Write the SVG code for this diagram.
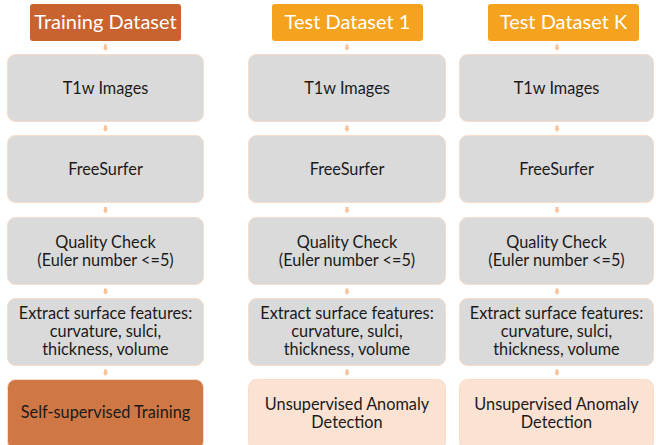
<svg xmlns="http://www.w3.org/2000/svg" width="656" height="445" viewBox="0 0 656 445">
<style>
  text { font-family: "Lato", "Open Sans", "Liberation Sans", sans-serif; text-anchor: middle; fill: #1a1a1a; }
  .hdr { font-size: 20px; fill: #ffffff; }
  .lbl { font-size: 16.3px; }
  .gray { fill: #dadada; stroke: #f9dcc8; stroke-width: 1; }
  .hTrain { fill: #c8632f; }
  .hTest { fill: #f5a31f; }
  .bTrain { fill: #cf7846; stroke: #f9dcc8; stroke-width: 1; }
  .bTest { fill: #fbe2d2; stroke: #f9dcc8; stroke-width: 1; }
  .arr { fill: #f6c29a; }
</style>
<rect width="656" height="445" fill="#ffffff"/>

<g id="connectors">
  <path class="arr" d="M104,44.5 h3 v3 h1.2 l-2.7,3.5 l-2.7,-3.5 h1.2 z"/>
  <path class="arr" d="M104,125.5 h3 v3 h1.2 l-2.7,3.5 l-2.7,-3.5 h1.2 z"/>
  <path class="arr" d="M104,207 h3 v3 h1.2 l-2.7,3.5 l-2.7,-3.5 h1.2 z"/>
  <path class="arr" d="M104,288.5 h3 v3 h1.2 l-2.7,3.5 l-2.7,-3.5 h1.2 z"/>
  <path class="arr" d="M104,369.5 h3 v3 h1.2 l-2.7,3.5 l-2.7,-3.5 h1.2 z"/>

  <path class="arr" d="M345.5,44.5 h3 v3 h1.2 l-2.7,3.5 l-2.7,-3.5 h1.2 z"/>
  <path class="arr" d="M345.5,125.5 h3 v3 h1.2 l-2.7,3.5 l-2.7,-3.5 h1.2 z"/>
  <path class="arr" d="M345.5,207 h3 v3 h1.2 l-2.7,3.5 l-2.7,-3.5 h1.2 z"/>
  <path class="arr" d="M345.5,288.5 h3 v3 h1.2 l-2.7,3.5 l-2.7,-3.5 h1.2 z"/>
  <path class="arr" d="M345.5,369.5 h3 v3 h1.2 l-2.7,3.5 l-2.7,-3.5 h1.2 z"/>

  <path class="arr" d="M555.5,44.5 h3 v3 h1.2 l-2.7,3.5 l-2.7,-3.5 h1.2 z"/>
  <path class="arr" d="M555.5,125.5 h3 v3 h1.2 l-2.7,3.5 l-2.7,-3.5 h1.2 z"/>
  <path class="arr" d="M555.5,207 h3 v3 h1.2 l-2.7,3.5 l-2.7,-3.5 h1.2 z"/>
  <path class="arr" d="M555.5,288.5 h3 v3 h1.2 l-2.7,3.5 l-2.7,-3.5 h1.2 z"/>
  <path class="arr" d="M555.5,369.5 h3 v3 h1.2 l-2.7,3.5 l-2.7,-3.5 h1.2 z"/>
</g>

<!-- Column 1 -->
<g id="train-header">
  <rect class="hTrain" x="30" y="4" width="151" height="37" rx="3"/>
  <text class="hdr" x="105.5" y="29">Training Dataset</text>
</g>
<g id="train-t1w">
  <rect class="gray" x="7.5" y="54.5" width="196" height="67" rx="8"/>
  <text class="lbl" x="105.5" y="94">T1w Images</text>
</g>
<g id="train-freesurfer">
  <rect class="gray" x="7.5" y="135.5" width="196" height="67" rx="8"/>
  <text class="lbl" x="105.5" y="175">FreeSurfer</text>
</g>
<g id="train-qc">
  <rect class="gray" x="7.5" y="217.5" width="196" height="67" rx="8"/>
  <text class="lbl" x="105.5" y="248">Quality Check</text>
  <text class="lbl" x="105.5" y="266">(Euler number &lt;=5)</text>
</g>
<g id="train-extract">
  <rect class="gray" x="7.5" y="298.5" width="196" height="67" rx="8"/>
  <text class="lbl" x="105.5" y="319">Extract surface features:</text>
  <text class="lbl" x="105.5" y="337">curvature, sulci,</text>
  <text class="lbl" x="105.5" y="355">thickness, volume</text>
</g>
<g id="train-ssl">
  <rect class="bTrain" x="7.5" y="379.5" width="196" height="70" rx="8"/>
  <text class="lbl" x="105.5" y="418">Self-supervised Training</text>
</g>

<!-- Column 2 -->
<g id="test1-header">
  <rect class="hTest" x="272" y="4" width="151" height="37" rx="3"/>
  <text class="hdr" x="347.5" y="29">Test Dataset 1</text>
</g>
<g id="test1-t1w">
  <rect class="gray" x="248.5" y="54.5" width="197" height="67" rx="8"/>
  <text class="lbl" x="347" y="94">T1w Images</text>
</g>
<g id="test1-freesurfer">
  <rect class="gray" x="248.5" y="135.5" width="197" height="67" rx="8"/>
  <text class="lbl" x="347" y="175">FreeSurfer</text>
</g>
<g id="test1-qc">
  <rect class="gray" x="248.5" y="217.5" width="197" height="67" rx="8"/>
  <text class="lbl" x="347" y="248">Quality Check</text>
  <text class="lbl" x="347" y="266">(Euler number &lt;=5)</text>
</g>
<g id="test1-extract">
  <rect class="gray" x="248.5" y="298.5" width="197" height="67" rx="8"/>
  <text class="lbl" x="347" y="319">Extract surface features:</text>
  <text class="lbl" x="347" y="337">curvature, sulci,</text>
  <text class="lbl" x="347" y="355">thickness, volume</text>
</g>
<g id="test1-anomaly">
  <rect class="bTest" x="248.5" y="379.5" width="197" height="70" rx="8"/>
  <text class="lbl" x="347" y="410">Unsupervised Anomaly</text>
  <text class="lbl" x="347" y="428">Detection</text>
</g>

<!-- Column 3 -->
<g id="testK-header">
  <rect class="hTest" x="488" y="4" width="151" height="37" rx="3"/>
  <text class="hdr" x="563.5" y="29">Test Dataset K</text>
</g>
<g id="testK-t1w">
  <rect class="gray" x="459.5" y="54.5" width="194" height="67" rx="8"/>
  <text class="lbl" x="556.5" y="94">T1w Images</text>
</g>
<g id="testK-freesurfer">
  <rect class="gray" x="459.5" y="135.5" width="194" height="67" rx="8"/>
  <text class="lbl" x="556.5" y="175">FreeSurfer</text>
</g>
<g id="testK-qc">
  <rect class="gray" x="459.5" y="217.5" width="194" height="67" rx="8"/>
  <text class="lbl" x="556.5" y="248">Quality Check</text>
  <text class="lbl" x="556.5" y="266">(Euler number &lt;=5)</text>
</g>
<g id="testK-extract">
  <rect class="gray" x="459.5" y="298.5" width="194" height="67" rx="8"/>
  <text class="lbl" x="556.5" y="319">Extract surface features:</text>
  <text class="lbl" x="556.5" y="337">curvature, sulci,</text>
  <text class="lbl" x="556.5" y="355">thickness, volume</text>
</g>
<g id="testK-anomaly">
  <rect class="bTest" x="459.5" y="379.5" width="194" height="70" rx="8"/>
  <text class="lbl" x="556.5" y="410">Unsupervised Anomaly</text>
  <text class="lbl" x="556.5" y="428">Detection</text>
</g>
</svg>
